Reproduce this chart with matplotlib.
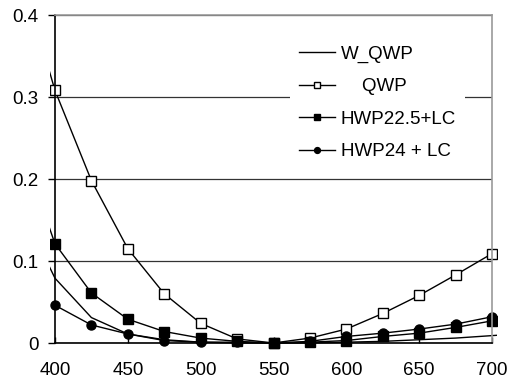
import numpy as np
import matplotlib
matplotlib.use("Agg")
import matplotlib.pyplot as plt
from matplotlib.patches import Rectangle

plt.rcParams['font.family'] = ['Liberation Sans', 'DejaVu Sans']

# wavelength (nm); first/last points lie just outside the visible range
wavelength = [375, 400, 425, 450, 475, 500, 525, 550, 575, 600, 625, 650, 675, 700, 725]
w_qwp    = [0.17, 0.079, 0.031, 0.011, 0.004, 0.001, 0.0, 0.0, 0.0, 0.001, 0.002, 0.004, 0.006, 0.009, 0.012]
qwp      = [0.46, 0.308, 0.198, 0.115, 0.060, 0.024, 0.005, 0.0, 0.006, 0.017, 0.036, 0.058, 0.083, 0.109, 0.137]
hwp225lc = [0.248, 0.121, 0.061, 0.029, 0.014, 0.006, 0.002, 0.0, 0.001, 0.003, 0.008, 0.012, 0.019, 0.027, 0.037]
hwp24lc  = [np.nan, 0.046, 0.022, 0.011, 0.003, 0.001, 0.001, 0.0, 0.002, 0.008, 0.012, 0.017, 0.023, 0.032, 0.042]

labels = ['W_QWP', '    QWP', 'HWP22.5+LC', 'HWP24 + LC']
xticks = [400, 450, 500, 550, 600, 650, 700]
yticks = [0, 0.1, 0.2, 0.3, 0.4]
ytick_labels = ['0', '0.1', '0.2', '0.3', '0.4']

fig = plt.figure(figsize=(5.07, 3.84), dpi=100)
ax = fig.add_axes([55/507, 1-343/384, 437/507, 328/384])

lw = 1.0
lines = []
lines += ax.plot(wavelength, w_qwp, color='black', lw=lw, label=labels[0])
lines += ax.plot(wavelength, qwp, color='black', lw=lw, marker='s', ms=6.5,
                 mfc='white', mec='black', mew=1.0, label=labels[1])
lines += ax.plot(wavelength, hwp225lc, color='black', lw=lw, marker='s', ms=6.5,
                 mfc='black', mec='black', label=labels[2])
lines += ax.plot(wavelength, hwp24lc, color='black', lw=lw, marker='o', ms=6.5,
                 mfc='black', mec='black', label=labels[3])

clip = Rectangle((-0.011, -0.04), 1.023, 1.04, transform=ax.transAxes)
for ln in lines:
    ln.set_clip_path(clip)

ax.set_xlim(400, 700)
ax.set_ylim(0, 0.4)
ax.set_xticks(xticks)
ax.set_yticks(yticks)
ax.set_yticklabels(ytick_labels)
ax.yaxis.grid(True, color='#333333', lw=0.9)
ax.set_axisbelow(True)

ax.tick_params(axis='y', direction='out', length=5, width=1, pad=7, labelsize=13.5)
ax.tick_params(axis='x', direction='in', length=4, width=1, pad=13.5, labelsize=13.5)

for s in ['left', 'bottom']:
    ax.spines[s].set_color('black')
    ax.spines[s].set_linewidth(1.2)
for s in ['top', 'right']:
    ax.spines[s].set_color('#999999')
    ax.spines[s].set_linewidth(1.2)

leg = ax.legend(loc='upper left', bbox_to_anchor=(290/507, 1-36/384),
                bbox_transform=fig.transFigure, fontsize=13.5, frameon=True,
                fancybox=False, edgecolor='none', facecolor='white', framealpha=1,
                handlelength=1.9, handletextpad=0.3, labelspacing=0.82,
                markerscale=0.65, borderpad=0.5, borderaxespad=0)

fig.savefig('out.png', dpi=100)
